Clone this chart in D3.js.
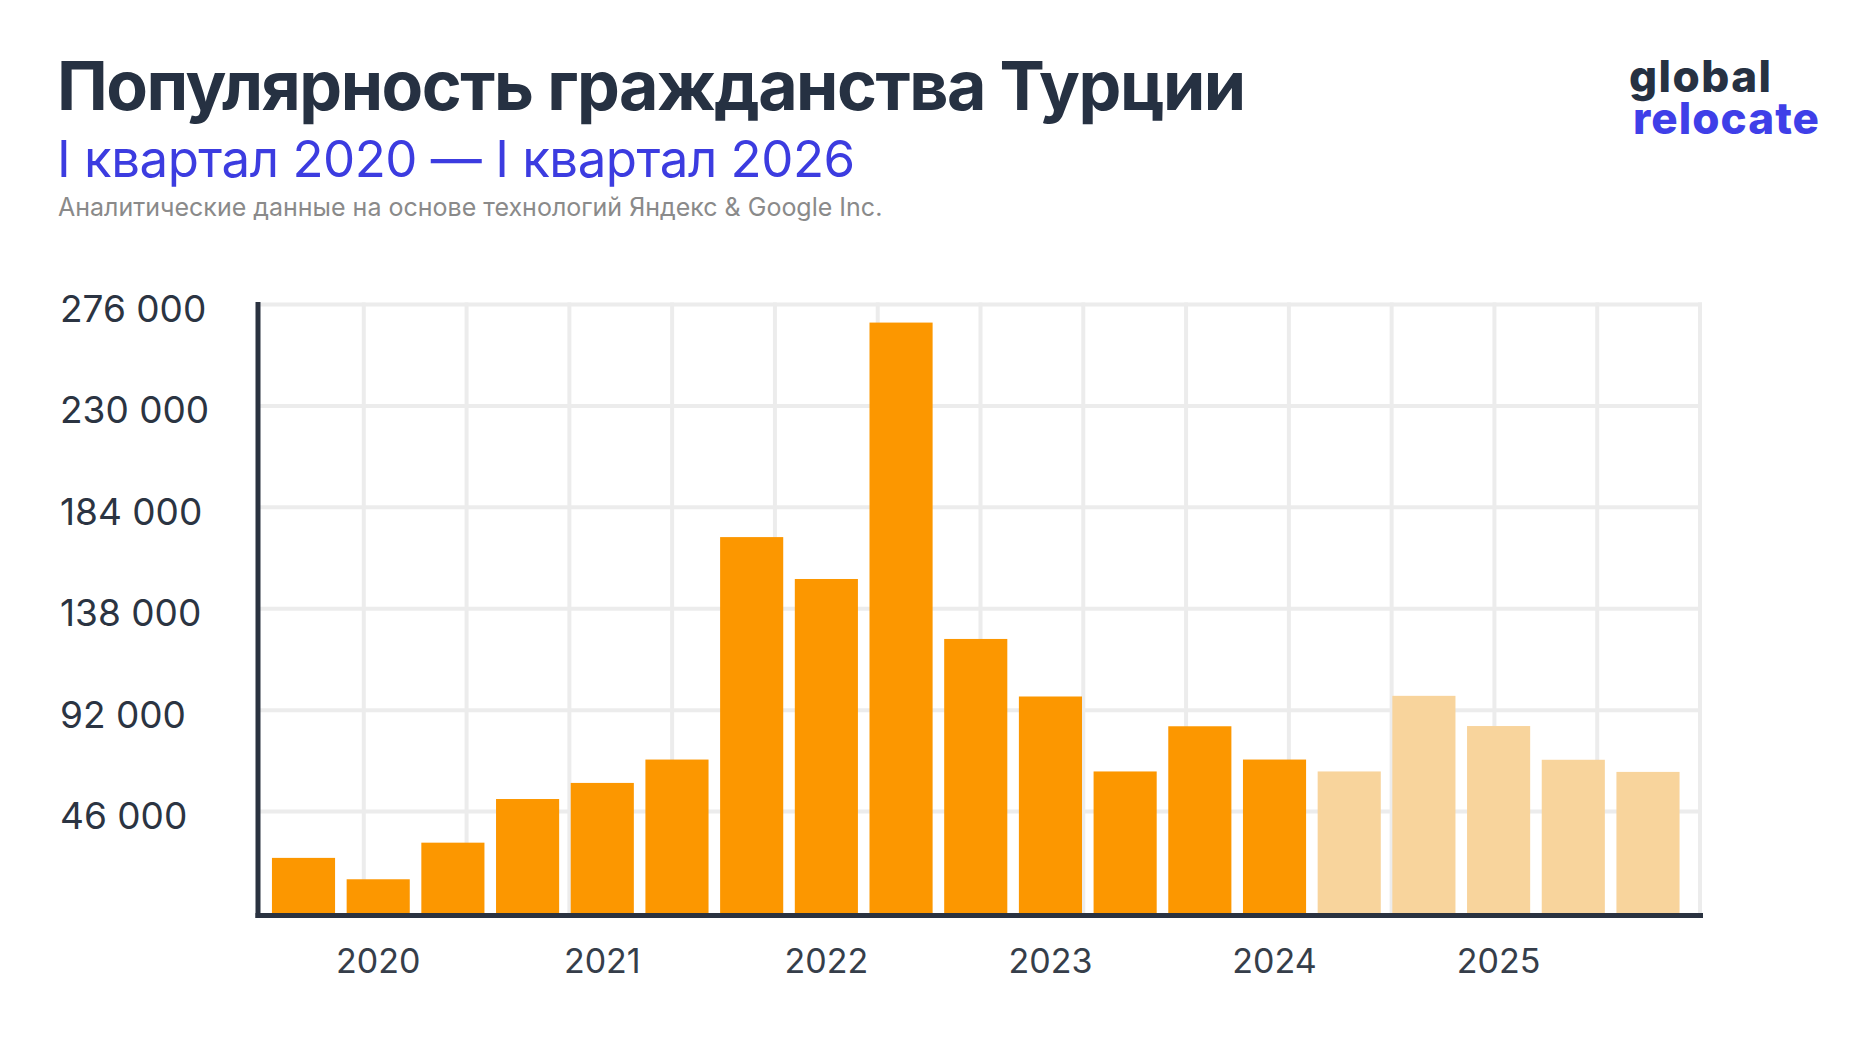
<!DOCTYPE html>
<html>
<head>
<meta charset="utf-8">
<script src="https://cdn.jsdelivr.net/npm/d3@7"></script>
<style>
  body { margin: 0; background: #fff; }
  svg { display: block; font-family: Inter, "Noto Sans", sans-serif; }
</style>
</head>
<body>
<div id="chart"></div>
<script>
// chart data: one bar per third of a year, Q1 2020 .. Q1 2026
const periods = ["2020-1", "2020-2", "2020-3", "2021-1", "2021-2", "2021-3",
    "2022-1", "2022-2", "2022-3", "2023-1", "2023-2", "2023-3",
    "2024-1", "2024-2", "2024-3", "2025-1", "2025-2", "2025-3", "2026-1"];
const values = [25000, 15300, 31900, 51700, 59000, 69600,
    170500, 151500, 267800, 124300, 98200, 64200,
    84700, 69600, 64200, 98500, 84800, 69500, 64000];
// last five bars are drawn lighter
const lightFrom = 14;
const yTicks = [46000, 92000, 138000, 184000, 230000, 276000];
const yearTicks = ["2020-2", "2021-2", "2022-2", "2023-2", "2024-2", "2025-2"];

const width = 1870, height = 1043;

const svg = d3.select("#chart")
  .append("svg")
    .attr("width", width)
    .attr("height", height);

const x = d3.scaleBand()
    .domain(periods)
    .range([260, 1691.5])
    .paddingInner(0.155)
    .paddingOuter(0.16);

const y = d3.scaleLinear()
    .domain([0, 276000])
    .range([913, 304.5]);

// vertical grid does not follow the bars
const gridX = d3.scaleLinear().domain([0, 14]).range([261, 1700]);

const fmt = d3.formatLocale({ decimal: ",", thousands: " ", grouping: [3], currency: ["", ""] }).format(",");

// grid
svg.append("g")
  .selectAll("line")
  .data(d3.range(1, 15))
  .join("line")
    .attr("x1", d => gridX(d))
    .attr("x2", d => gridX(d))
    .attr("y1", y(276000) - 2)
    .attr("y2", y(0))
    .attr("stroke", "#ececec")
    .attr("stroke-width", 4);

svg.append("g")
  .selectAll("line")
  .data(yTicks)
  .join("line")
    .attr("x1", 258)
    .attr("x2", 1702)
    .attr("y1", d => y(d))
    .attr("y2", d => y(d))
    .attr("stroke", "#ececec")
    .attr("stroke-width", 4);

// bars
svg.append("g")
  .selectAll("rect")
  .data(periods)
  .join("rect")
    .attr("x", d => x(d))
    .attr("y", (d, i) => y(values[i]))
    .attr("width", x.bandwidth())
    .attr("height", (d, i) => y(0) - y(values[i]))
    .attr("fill", (d, i) => i >= lightFrom ? "#f8d49c" : "#fc9700");

// y axis
const yAxis = svg.append("g")
    .call(d3.axisLeft(y).tickValues(yTicks).tickSize(0).tickFormat(fmt))
    .attr("font-family", null)
    .attr("font-size", null);
yAxis.select(".domain").remove();
yAxis.selectAll("text")
    .attr("x", 60)
    .attr("dy", 17)
    .attr("text-anchor", "start")
    .attr("fill", "#2b3442")
    .style("font-size", "37px");

// x axis
const xAxis = svg.append("g")
    .attr("transform", `translate(0, ${y(0)})`)
    .call(d3.axisBottom(x).tickValues(yearTicks).tickSize(0).tickFormat(d => d.slice(0, 4)))
    .attr("font-family", null)
    .attr("font-size", null);
xAxis.select(".domain").remove();
xAxis.selectAll("text")
    .attr("y", 60)
    .attr("dy", 0)
    .attr("fill", "#363e4a")
    .style("font-size", "34px");

// axis lines
svg.append("line")
    .attr("x1", 258).attr("x2", 258)
    .attr("y1", 302).attr("y2", 918)
    .attr("stroke", "#2a3240").attr("stroke-width", 5);
svg.append("line")
    .attr("x1", 255.5).attr("x2", 1703)
    .attr("y1", 915.5).attr("y2", 915.5)
    .attr("stroke", "#2a3240").attr("stroke-width", 5);

// titles
svg.append("text")
    .attr("x", 57).attr("y", 110)
    .attr("fill", "#263142")
    .style("font-size", "68px")
    .style("font-weight", 700)
    .style("letter-spacing", "-1.5px")
    .text("Популярность гражданства Турции");

svg.append("text")
    .attr("x", 57).attr("y", 177)
    .attr("fill", "#3c3ce0")
    .style("font-size", "51px")
    .style("letter-spacing", "-0.5px")
    .text("I квартал 2020 — I квартал 2026");

svg.append("text")
    .attr("x", 58).attr("y", 216)
    .attr("fill", "#8a8a8a")
    .style("font-size", "25px")
    .text("Аналитические данные на основе технологий Яндекс & Google Inc.");

// logo
svg.append("text")
    .attr("x", 1629).attr("y", 92)
    .attr("fill", "#263142")
    .attr("textLength", 141)
    .style("font-size", "44px")
    .style("font-weight", 800)
    .style("letter-spacing", "-1px")
    .text("global");
svg.append("text")
    .attr("x", 1633).attr("y", 134)
    .attr("fill", "#3f3fe8")
    .attr("textLength", 185)
    .style("font-size", "44px")
    .style("font-weight", 800)
    .style("letter-spacing", "-1px")
    .text("relocate");
</script>
</body>
</html>
